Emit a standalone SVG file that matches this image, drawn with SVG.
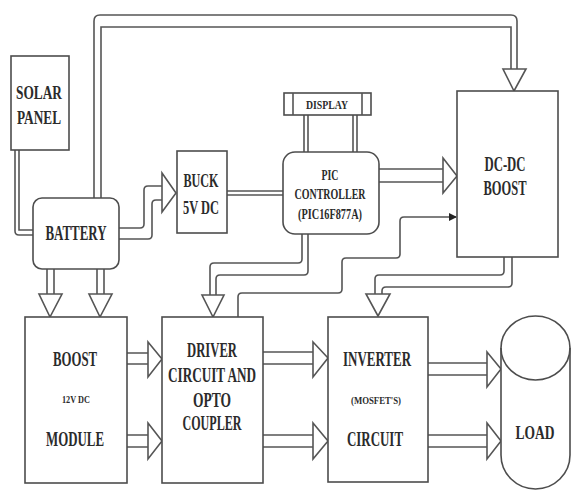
<svg xmlns="http://www.w3.org/2000/svg" width="571" height="490" viewBox="0 0 571 490">
<defs>
<style>
.box{fill:#fff;stroke:#4d4d4d;stroke-width:1.6}
.ln{fill:none;stroke:#555;stroke-width:1.6}
.hd{fill:#fff;stroke:#555;stroke-width:1.6;stroke-linejoin:miter}
.t{font-family:"Liberation Serif","Times New Roman",serif;font-weight:bold;fill:#2b2b2b;text-anchor:middle}
.b{font-size:20px}
.m{font-size:14px}
.s{font-size:10px}
</style>
<marker id="ah" markerWidth="8" markerHeight="8" refX="7" refY="4" orient="auto" markerUnits="userSpaceOnUse">
<path d="M0,0 L8,4 L0,8 Z" fill="#222"/>
</marker>
</defs>
<rect width="571" height="490" fill="#fff"/>

<g id="connectors">
<!-- solar to battery -->
<path class="ln" d="M15,150 V231 Q15,235 19,235 H33"/>
<path class="ln" d="M19,150 V230 H33"/>
<!-- battery to dc-dc top -->
<path class="ln" d="M94,198 V21 Q94,15 100,15 H511 Q517,15 517,21 V69"/>
<path class="ln" d="M101,198 V27 H511 V69"/>
<polygon class="hd" points="503,69 526,69 514,91"/>
<!-- battery to buck -->
<path class="ln" d="M119,228 H140 Q144,228 144,224 V190 Q144,186 148,186 H162"/>
<path class="ln" d="M119,239 H148 Q152,239 152,235 V204 Q152,200 156,200 H162"/>
<polygon class="hd" points="162,173 176,193 162,212"/>
<!-- buck to pic -->
<path class="ln" d="M227,191 H283 M227,195 H283"/>
<!-- display to pic -->
<path class="ln" d="M304,115 V152 M308,115 V152 M353,115 V152 M357,115 V152"/>
<!-- pic to dc-dc -->
<path class="ln" d="M379,169 H443 M379,182 H443"/>
<polygon class="hd" points="443,158 457,176 443,193"/>
<!-- pic to driver -->
<path class="ln" d="M302,234 V259 Q302,263 298,263 H214 Q210,263 210,267 V295"/>
<path class="ln" d="M308,234 V271 Q308,275 304,275 H220 Q216,275 216,279 V295"/>
<polygon class="hd" points="202,295 224,295 213,317"/>
<!-- driver feedback thin line to dc-dc -->
<path class="ln" d="M238,317 V297 Q238,293 242,293 H338 Q342,293 342,289 V262 Q342,258 346,258 H396 Q400,258 400,254 V221 Q400,217 404,217 H456" marker-end="url(#ah)"/>
<!-- dc-dc to inverter -->
<path class="ln" d="M504,257 V271 Q504,275 500,275 H379 Q375,275 375,279 V294"/>
<path class="ln" d="M512,257 V283 Q512,287 508,287 H386 Q382,287 382,291 V294"/>
<polygon class="hd" points="366,294 390,294 378,316"/>
<!-- battery to boost module -->
<path class="ln" d="M47,269 V294 M54,269 V294 M97,269 V294 M104,269 V294"/>
<polygon class="hd" points="39,294 62,294 50,317"/>
<polygon class="hd" points="89,294 112,294 100,317"/>
<!-- boost to driver -->
<path class="ln" d="M127,353 H148 M127,364 H148 M127,435 H148 M127,447 H148"/>
<polygon class="hd" points="148,342 162,359 148,377"/>
<polygon class="hd" points="148,423 162,441 148,459"/>
<!-- driver to inverter -->
<path class="ln" d="M263,352 H313 M263,364 H313 M263,435 H313 M263,447 H313"/>
<polygon class="hd" points="313,342 328,358 313,377"/>
<polygon class="hd" points="313,423 328,441 313,459"/>
<!-- inverter to load -->
<path class="ln" d="M428,363 H487 M428,375 H487 M428,435 H487 M428,447 H487"/>
<polygon class="hd" points="487,352 501,369 487,387"/>
<polygon class="hd" points="487,423 501,441 487,459"/>
</g>

<g id="solar-panel">
<rect class="box" x="11" y="56" width="58" height="94"/>
<text class="t" x="39" y="99" font-size="18" textLength="46" lengthAdjust="spacingAndGlyphs">SOLAR</text>
<text class="t" x="39" y="124" font-size="18" textLength="44" lengthAdjust="spacingAndGlyphs">PANEL</text>
</g>

<g id="battery">
<rect class="box" x="33" y="198" width="86" height="71" rx="9"/>
<text class="t b" x="76" y="240" textLength="61" lengthAdjust="spacingAndGlyphs">BATTERY</text>
</g>

<g id="buck">
<rect class="box" x="177" y="151" width="50" height="82"/>
<text class="t" x="201" y="187" font-size="18" textLength="35" lengthAdjust="spacingAndGlyphs">BUCK</text>
<text class="t" x="201" y="214" font-size="18" textLength="36" lengthAdjust="spacingAndGlyphs">5V DC</text>
</g>

<g id="display">
<rect class="box" x="284" y="93" width="87" height="22"/>
<path class="ln" d="M293,93 V115 M362,93 V115"/>
<text class="t" x="327" y="109" font-size="13" textLength="42" lengthAdjust="spacingAndGlyphs">DISPLAY</text>
</g>

<g id="pic-controller">
<rect class="box" x="283" y="152" width="96" height="82" rx="12"/>
<text class="t m" x="330" y="180" textLength="17" lengthAdjust="spacingAndGlyphs">PIC</text>
<text class="t m" x="330" y="199" textLength="71" lengthAdjust="spacingAndGlyphs">CONTROLLER</text>
<text class="t m" x="330" y="219" textLength="64" lengthAdjust="spacingAndGlyphs">(PIC16F877A)</text>
</g>

<g id="dc-dc-boost">
<rect class="box" x="457" y="91" width="101" height="166"/>
<text class="t" x="505" y="171" font-size="21" textLength="41" lengthAdjust="spacingAndGlyphs">DC-DC</text>
<text class="t" x="505" y="195" font-size="21" textLength="43" lengthAdjust="spacingAndGlyphs">BOOST</text>
</g>

<g id="boost-module">
<rect class="box" x="25" y="317" width="102" height="166"/>
<text class="t b" x="75" y="366" textLength="44" lengthAdjust="spacingAndGlyphs">BOOST</text>
<text class="t s" x="76" y="403" textLength="28" lengthAdjust="spacingAndGlyphs">12V DC</text>
<text class="t b" x="75" y="446" textLength="58" lengthAdjust="spacingAndGlyphs">MODULE</text>
</g>

<g id="driver">
<rect class="box" x="162" y="317" width="101" height="166"/>
<text class="t b" x="212" y="357" textLength="50" lengthAdjust="spacingAndGlyphs">DRIVER</text>
<text class="t b" x="212" y="382" textLength="88" lengthAdjust="spacingAndGlyphs">CIRCUIT AND</text>
<text class="t b" x="212" y="407" textLength="38" lengthAdjust="spacingAndGlyphs">OPTO</text>
<text class="t b" x="212" y="430" textLength="59" lengthAdjust="spacingAndGlyphs">COUPLER</text>
</g>

<g id="inverter">
<rect class="box" x="328" y="317" width="100" height="165"/>
<text class="t b" x="377" y="366" textLength="68" lengthAdjust="spacingAndGlyphs">INVERTER</text>
<text class="t s" x="376" y="404" textLength="50" lengthAdjust="spacingAndGlyphs">(MOSFET'S)</text>
<text class="t b" x="375" y="446" textLength="56" lengthAdjust="spacingAndGlyphs">CIRCUIT</text>
</g>

<g id="load">
<path class="box" d="M501,348 A34.5,32 0 0 1 570,348 V455 A34.5,34 0 0 1 501,455 Z"/>
<path class="ln" style="stroke:#4d4d4d" d="M501,348 A34.5,32 0 0 0 570,348"/>
<text class="t" x="535" y="439" font-size="19" textLength="39" lengthAdjust="spacingAndGlyphs">LOAD</text>
</g>
</svg>
